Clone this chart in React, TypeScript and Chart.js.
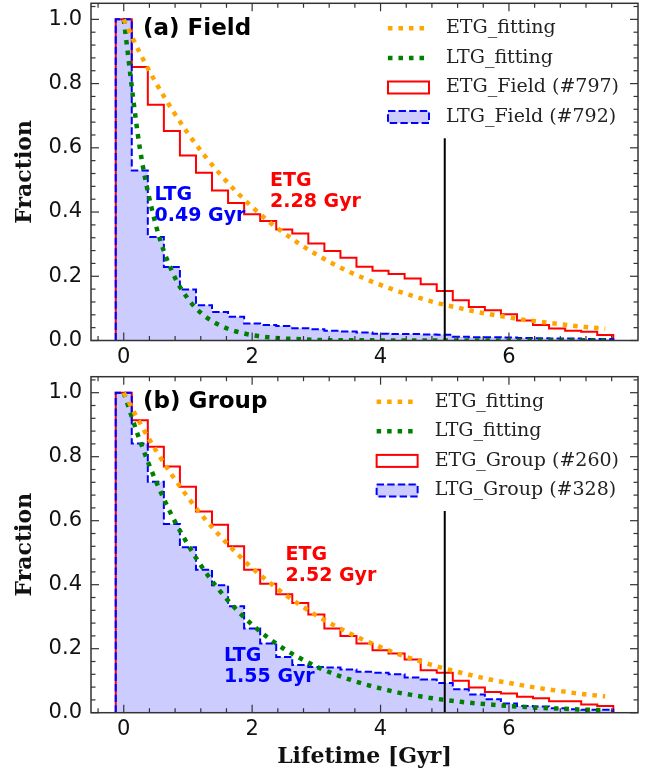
import React, { useEffect, useRef } from "react";
import { Chart, registerables } from "chart.js";

Chart.register(...registerables);

// ---------- data ----------
const binEdges = [
  -0.125, 0.125, 0.375, 0.625, 0.875, 1.125, 1.375, 1.625, 1.875, 2.125, 2.375,
  2.625, 2.875, 3.125, 3.375, 3.625, 3.875, 4.125, 4.375, 4.625, 4.875, 5.125,
  5.375, 5.625, 5.875, 6.125, 6.375, 6.625, 6.875, 7.125, 7.375, 7.625,
];

const fitTimes = [
  0, 0.25, 0.5, 0.75, 1, 1.25, 1.5, 1.75, 2, 2.25, 2.5, 2.75, 3, 3.25, 3.5, 3.75,
  4, 4.25, 4.5, 4.75, 5, 5.25, 5.5, 5.75, 6, 6.25, 6.5, 6.75, 7, 7.25, 7.5,
];

const fieldEtgHist = [
  1.0, 0.852, 0.734, 0.652, 0.576, 0.522, 0.467, 0.428, 0.393, 0.372, 0.346,
  0.333, 0.302, 0.279, 0.258, 0.23, 0.217, 0.207, 0.193, 0.175, 0.154, 0.125,
  0.104, 0.094, 0.082, 0.062, 0.048, 0.037, 0.03, 0.027, 0.017,
];
const fieldLtgHist = [
  1.0, 0.529, 0.322, 0.229, 0.159, 0.11, 0.089, 0.074, 0.053, 0.048, 0.045,
  0.038, 0.035, 0.03, 0.028, 0.025, 0.021, 0.02, 0.02, 0.019, 0.018, 0.012,
  0.01, 0.01, 0.009, 0.008, 0.007, 0.006, 0.006, 0.005, 0.005,
];
const groupEtgHist = [
  1.0, 0.914, 0.831, 0.769, 0.706, 0.629, 0.587, 0.52, 0.447, 0.403, 0.37,
  0.343, 0.307, 0.263, 0.24, 0.216, 0.195, 0.185, 0.166, 0.133, 0.125, 0.1,
  0.079, 0.065, 0.06, 0.05, 0.045, 0.036, 0.036, 0.026, 0.021,
];
const groupLtgHist = [
  1.0, 0.841, 0.722, 0.59, 0.517, 0.447, 0.398, 0.333, 0.263, 0.216, 0.174,
  0.149, 0.143, 0.141, 0.135, 0.128, 0.125, 0.12, 0.11, 0.104, 0.093, 0.073,
  0.057, 0.042, 0.029, 0.021, 0.019, 0.014, 0.011, 0.009, 0.009,
];

const fieldEtgFit = [
  1.0, 0.896, 0.803, 0.72, 0.645, 0.578, 0.518, 0.464, 0.416, 0.372, 0.334,
  0.299, 0.268, 0.24, 0.215, 0.193, 0.173, 0.155, 0.139, 0.124, 0.111, 0.1,
  0.089, 0.08, 0.072, 0.064, 0.058, 0.052, 0.046, 0.041, 0.037,
];
const fieldLtgFit = [
  1.0, 0.6, 0.36, 0.216, 0.13, 0.078, 0.047, 0.028, 0.017, 0.01, 0.006, 0.004,
  0.002, 0.001, 0.001, 0.001, 0.0, 0.0, 0.0, 0.0, 0.0, 0.0, 0.0, 0.0, 0.0, 0.0,
  0.0, 0.0, 0.0, 0.0, 0.0,
];
const groupEtgFit = [
  1.0, 0.906, 0.82, 0.743, 0.673, 0.609, 0.552, 0.5, 0.452, 0.41, 0.371, 0.336,
  0.304, 0.276, 0.25, 0.226, 0.205, 0.185, 0.168, 0.152, 0.138, 0.125, 0.113,
  0.102, 0.093, 0.084, 0.076, 0.069, 0.062, 0.056, 0.051,
];
const groupLtgFit = [
  1.0, 0.851, 0.724, 0.616, 0.525, 0.446, 0.38, 0.323, 0.275, 0.234, 0.199,
  0.17, 0.144, 0.123, 0.105, 0.089, 0.076, 0.064, 0.055, 0.047, 0.04, 0.034,
  0.029, 0.025, 0.021, 0.018, 0.015, 0.013, 0.011, 0.009, 0.008,
];

const refLineX = [5, 5];
const refLineY = [0, 0.63];

const xMajorTicks = [0, 2, 4, 6];
const xMinorTicks = [-0.4, 0.4, 0.8, 1.2, 1.6, 2.4, 2.8, 3.2, 3.6, 4.4, 4.8, 5.2, 5.6, 6.4, 6.8, 7.2, 7.6];
const yMajorTicks = [0, 0.2, 0.4, 0.6, 0.8, 1.0];
const yMinorTicks = [
  0.04, 0.08, 0.12, 0.16, 0.24, 0.28, 0.32, 0.36, 0.44, 0.48, 0.52, 0.56, 0.64,
  0.68, 0.72, 0.76, 0.84, 0.88, 0.92, 0.96, 1.04,
];

const fieldLegendLabels = ["ETG_fitting", "LTG_fitting", "ETG_Field (#797)", "LTG_Field (#792)"];
const groupLegendLabels = ["ETG_fitting", "LTG_fitting", "ETG_Group (#260)", "LTG_Group (#328)"];

// ---------- helpers ----------
const ORANGE = "#ffa500";
const GREEN = "#008000";
const RED = "#ff0000";
const BLUE = "#0000ff";
const BLUE_FILL = "rgba(0,0,255,0.2)";
const FIT_DASH = [4.5, 6];
const HIST_DASH = [7.4, 3.2];

function stepPoints(edges: number[], values: number[]) {
  const pts: { x: number; y: number }[] = [{ x: edges[0], y: 0 }];
  values.forEach((v, i) => pts.push({ x: edges[i], y: v }));
  pts.push({ x: edges[edges.length - 1], y: 0 });
  return pts;
}
function linePoints(xs: number[], ys: number[]) {
  return xs.map((x, i) => ({ x, y: ys[i] }));
}

type Ann = { x: number; y: number; lines: string[]; color: string; font: string };

type PanelProps = {
  height: number;
  padTop: number;
  areaBottom: number;
  etgHist: number[];
  ltgHist: number[];
  etgFit: number[];
  ltgFit: number[];
  legendLabels: string[];
  annotations: Ann[];
  showXTitle: boolean;
};

function Panel(p: PanelProps) {
  const ref = useRef<HTMLCanvasElement>(null);
  useEffect(() => {
    const canvas = ref.current!;
    const xAxisHeight = p.height - p.areaBottom;

    const framePlugin = {
      id: "frameTicks",
      afterDatasetsDraw(chart: any) {
        const { ctx, chartArea: a, scales } = chart;
        const x = scales.x;
        const y = scales.y;
        ctx.save();
        ctx.setLineDash([]);
        ctx.strokeStyle = "#333";
        ctx.lineWidth = 1.5;
        ctx.strokeRect(a.left, a.top, a.right - a.left, a.bottom - a.top);
        ctx.lineWidth = 1.2;
        const tick = (px: number, py: number, dx: number, dy: number) => {
          ctx.beginPath();
          ctx.moveTo(px, py);
          ctx.lineTo(px + dx, py + dy);
          ctx.stroke();
        };
        xMajorTicks.forEach((v) => {
          const px = x.getPixelForValue(v);
          tick(px, a.bottom, 0, -8);
          tick(px, a.top, 0, 8);
        });
        xMinorTicks.forEach((v) => {
          const px = x.getPixelForValue(v);
          tick(px, a.bottom, 0, -4.5);
          tick(px, a.top, 0, 4.5);
        });
        yMajorTicks.forEach((v) => {
          const py = y.getPixelForValue(v);
          tick(a.left, py, 8, 0);
          tick(a.right, py, -8, 0);
        });
        yMinorTicks.forEach((v) => {
          const py = y.getPixelForValue(v);
          tick(a.left, py, 4.5, 0);
          tick(a.right, py, -4.5, 0);
        });
        ctx.restore();
      },
    };

    const overlayPlugin = {
      id: "overlay",
      afterDraw(chart: any) {
        const { ctx, chartArea: a, scales } = chart;
        const x = scales.x;
        const y = scales.y;
        ctx.save();
        // annotations
        p.annotations.forEach((an) => {
          ctx.font = an.font;
          ctx.fillStyle = an.color;
          ctx.textAlign = "left";
          ctx.textBaseline = "middle";
          const px = x.getPixelForValue(an.x);
          const py = y.getPixelForValue(an.y);
          an.lines.forEach((t, i) => ctx.fillText(t, px, py + i * 21));
        });
        // legend
        ctx.font = '19px "DejaVu Serif"';
        const widths = p.legendLabels.map((t) => ctx.measureText(t).width);
        const textRight = a.right - 19;
        const textLeft = textRight - Math.max(...widths);
        const hR = textLeft - 17;
        const hL = hR - 41;
        const kinds = [
          { type: "line", color: ORANGE },
          { type: "line", color: GREEN },
          { type: "rect", color: RED, fill: null as string | null, dash: [] as number[] },
          { type: "rect", color: BLUE, fill: BLUE_FILL as string | null, dash: HIST_DASH },
        ];
        p.legendLabels.forEach((label, k) => {
          const cy = a.top + 25 + k * 29.6;
          const kd: any = kinds[k];
          if (kd.type === "line") {
            ctx.setLineDash(FIT_DASH);
            ctx.lineWidth = 4.5;
            ctx.strokeStyle = kd.color;
            ctx.beginPath();
            ctx.moveTo(hL, cy);
            ctx.lineTo(hR, cy);
            ctx.stroke();
          } else {
            if (kd.fill) {
              ctx.fillStyle = kd.fill;
              ctx.fillRect(hL, cy - 6, hR - hL, 12);
            }
            ctx.setLineDash(kd.dash);
            ctx.lineWidth = 2;
            ctx.strokeStyle = kd.color;
            ctx.strokeRect(hL, cy - 6, hR - hL, 12);
          }
          ctx.setLineDash([]);
          ctx.fillStyle = "#222";
          ctx.textAlign = "left";
          ctx.textBaseline = "middle";
          ctx.fillText(label, textLeft, cy);
        });
        ctx.restore();
      },
    };

    const chart = new Chart(canvas, {
      type: "line",
      data: {
        datasets: [
          {
            label: "ref",
            data: linePoints(refLineX, refLineY),
            borderColor: "#000",
            borderWidth: 2,
            pointRadius: 0,
            fill: false,
            order: 0,
          },
          {
            label: p.legendLabels[0],
            data: linePoints(fitTimes, p.etgFit),
            borderColor: ORANGE,
            borderWidth: 4.5,
            borderDash: FIT_DASH,
            borderCapStyle: "butt",
            pointRadius: 0,
            cubicInterpolationMode: "monotone",
            fill: false,
            order: 1,
          },
          {
            label: p.legendLabels[1],
            data: linePoints(fitTimes, p.ltgFit),
            borderColor: GREEN,
            borderWidth: 4.5,
            borderDash: FIT_DASH,
            borderCapStyle: "butt",
            pointRadius: 0,
            cubicInterpolationMode: "monotone",
            fill: false,
            order: 2,
          },
          {
            label: p.legendLabels[3],
            data: stepPoints(binEdges, p.ltgHist),
            stepped: true,
            borderColor: BLUE,
            borderWidth: 2,
            borderDash: HIST_DASH,
            backgroundColor: BLUE_FILL,
            fill: "origin",
            pointRadius: 0,
            order: 3,
          },
          {
            label: p.legendLabels[2],
            data: stepPoints(binEdges, p.etgHist),
            stepped: true,
            borderColor: RED,
            borderWidth: 2,
            fill: false,
            pointRadius: 0,
            order: 4,
          },
        ] as any,
      },
      options: {
        animation: false,
        responsive: false,
        devicePixelRatio: 1,
        events: [],
        layout: { padding: { top: p.padTop, right: 16, left: 0, bottom: 0 } },
        plugins: { legend: { display: false }, tooltip: { enabled: false } },
        scales: {
          x: {
            type: "linear",
            min: -0.51,
            max: 8.01,
            grid: { display: false, drawTicks: false },
            border: { display: false },
            ticks: {
              font: { family: "DejaVu Sans", size: 21 },
              color: "#111",
              padding: 4.5,
              maxRotation: 0,
              callback: (v: any) => String(v),
            },
            afterBuildTicks: (axis: any) => {
              axis.ticks = xMajorTicks.map((v) => ({ value: v }));
            },
            afterFit: (s: any) => {
              s.height = xAxisHeight;
              s.paddingLeft = 0;
              s.paddingRight = 0;
            },
            title: {
              display: p.showXTitle,
              text: "Lifetime [Gyr]",
              font: { family: "DejaVu Serif", size: 22, weight: "bold" },
              color: "#111",
              padding: { top: 0, bottom: 7 },
            },
          },
          y: {
            type: "linear",
            min: 0,
            max: 1.05,
            grid: { display: false, drawTicks: false },
            border: { display: false },
            ticks: {
              font: { family: "DejaVu Sans", size: 21 },
              color: "#111",
              padding: 9,
              callback: (v: any) => Number(v).toFixed(1),
            },
            afterBuildTicks: (axis: any) => {
              axis.ticks = yMajorTicks.map((v) => ({ value: v }));
            },
            afterFit: (s: any) => {
              s.width = 91;
              s.paddingTop = 0;
              s.paddingBottom = 0;
            },
            title: {
              display: true,
              text: "Fraction",
              font: { family: "DejaVu Serif", size: 22, weight: "bold" },
              color: "#111",
              padding: { top: 12, bottom: 0 },
            },
          },
        },
      } as any,
      plugins: [framePlugin, overlayPlugin],
    });
    return () => chart.destroy();
  }, []);
  return (
    <canvas
      ref={ref}
      width={654}
      height={p.height}
      style={{ display: "block", width: 654, height: p.height }}
    />
  );
}

const annFont = 'bold 19px "DejaVu Sans"';
const titleFont = 'bold 23px "DejaVu Sans"';

export default function App() {
  return (
    <div style={{ position: "absolute", left: 0, top: 0, width: 654, height: 777, background: "#fff" }}>
      <Panel
        height={365}
        padTop={3.3}
        areaBottom={340.5}
        etgHist={fieldEtgHist}
        ltgHist={fieldLtgHist}
        etgFit={fieldEtgFit}
        ltgFit={fieldLtgFit}
        legendLabels={fieldLegendLabels}
        showXTitle={false}
        annotations={[
          { x: 0.3, y: 0.97, lines: ["(a) Field"], color: "#000", font: titleFont },
          { x: 2.28, y: 0.497, lines: ["ETG", "2.28 Gyr"], color: RED, font: annFont },
          { x: 0.48, y: 0.453, lines: ["LTG", "0.49 Gyr"], color: BLUE, font: annFont },
        ]}
      />
      <Panel
        height={412}
        padTop={11.7}
        areaBottom={347.7}
        etgHist={groupEtgHist}
        ltgHist={groupLtgHist}
        etgFit={groupEtgFit}
        ltgFit={groupLtgFit}
        legendLabels={groupLegendLabels}
        showXTitle={true}
        annotations={[
          { x: 0.3, y: 0.971, lines: ["(b) Group"], color: "#000", font: titleFont },
          { x: 2.52, y: 0.494, lines: ["ETG", "2.52 Gyr"], color: RED, font: annFont },
          { x: 1.56, y: 0.178, lines: ["LTG", "1.55 Gyr"], color: BLUE, font: annFont },
        ]}
      />
    </div>
  );
}
